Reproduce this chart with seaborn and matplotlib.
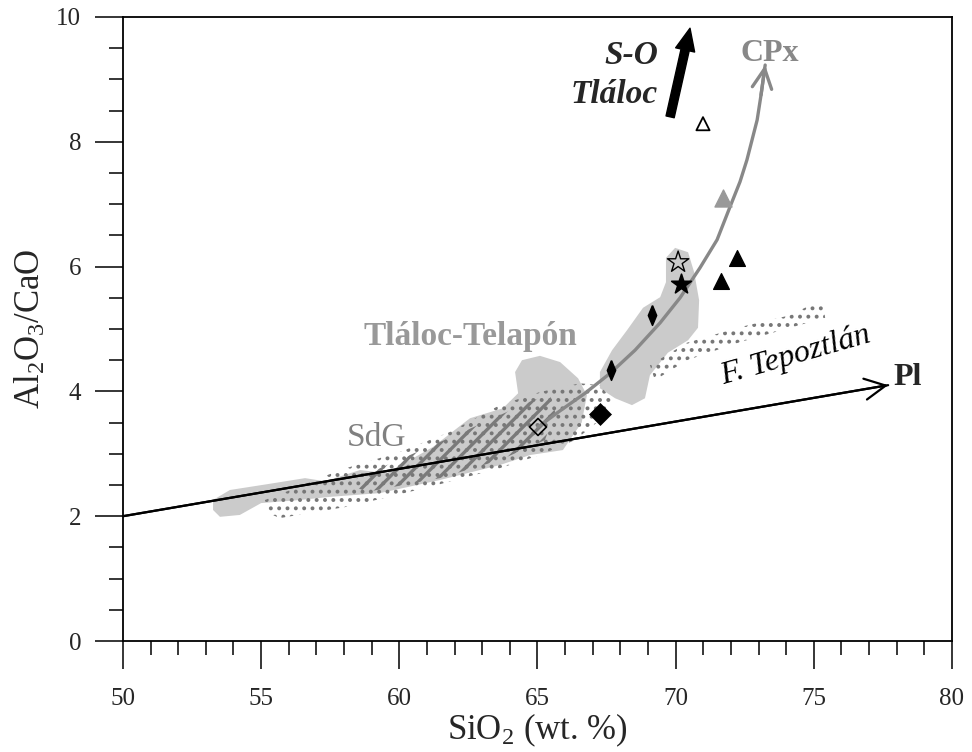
import numpy as np
import pandas as pd
import seaborn as sns
import matplotlib.pyplot as plt
from matplotlib.ticker import MultipleLocator

# samples (SiO2 wt.%, Al2O3/CaO)
sample_group = ["open_diamond", "diamond", "thin_diamond", "thin_diamond", "star",
                "open_star", "triangle", "triangle", "gray_triangle", "open_triangle"]
sample_sio2 = [65.02, 67.26, 67.66, 69.15, 70.20, 70.09, 71.64, 72.22, 71.70, 70.99]
sample_ratio = [3.43, 3.64, 4.34, 5.22, 5.72, 6.07, 5.77, 6.14, 7.10, 8.29]

# Tláloc-Telapón field (lower part and upper blob)
tt_low_sio2 = [53.26, 53.87, 55.32, 56.59, 57.31, 58.58, 59.55, 61.22, 62.09, 62.56, 63.75,
               64.30, 64.19, 64.44, 65.09, 65.82, 66.47, 66.79, 66.60, 65.92, 64.73, 63.64,
               61.47, 59.30, 57.49, 56.41, 55.00, 54.23, 53.51, 53.26]
tt_low_ratio = [2.26, 2.42, 2.52, 2.61, 2.56, 2.74, 2.69, 3.11, 3.41, 3.57, 3.73,
                3.97, 4.31, 4.50, 4.57, 4.47, 4.21, 3.94, 3.50, 3.06, 2.98, 2.82,
                2.58, 2.37, 2.31, 2.26, 2.21, 2.02, 1.99, 2.10]
tt_up_sio2 = [67.26, 67.70, 68.24, 68.82, 69.44, 69.65, 69.65, 69.98, 70.45, 70.67, 70.85,
              70.81, 70.45, 69.72, 69.07, 68.89, 68.42, 67.81, 67.26]
tt_up_ratio = [4.31, 4.66, 4.98, 5.34, 5.51, 5.75, 6.14, 6.30, 6.23, 5.91, 5.46,
               5.02, 4.82, 4.62, 4.26, 3.89, 3.78, 3.89, 4.05]

# dotted fields
dot_sio2 = [55.14, 56.41, 57.85, 60.03, 61.83, 63.64, 65.09, 66.54, 67.26, 67.70, 67.26,
            66.36, 65.09, 63.64, 61.11, 58.22, 55.68, 55.14]
dot_ratio = [2.26, 2.48, 2.74, 3.03, 3.35, 3.78, 3.99, 4.13, 4.10, 3.86, 3.54,
             3.22, 2.98, 2.77, 2.47, 2.16, 1.97, 2.07]
tepo_sio2 = [69.07, 70.41, 72.33, 74.14, 74.68, 75.33, 75.41, 74.14, 72.33, 70.41, 69.25]
tepo_ratio = [4.42, 4.78, 5.03, 5.22, 5.34, 5.42, 5.18, 5.02, 4.79, 4.50, 4.18]

# hatched field (SdG)
sdg_sio2 = [58.47, 62.20, 64.84, 65.45, 65.64, 65.27, 63.64, 61.47, 58.83, 58.40]
sdg_ratio = [2.61, 3.33, 3.86, 3.94, 3.67, 3.22, 2.90, 2.61, 2.39, 2.47]

# trends
pl_sio2 = [50.0, 77.69]
pl_ratio = [2.0, 4.10]
cpx_sio2 = [65.02, 65.82, 66.72, 67.63, 68.53, 69.44, 70.16, 70.88, 71.50, 71.97,
            72.33, 72.58, 72.95, 73.09, 73.24]
cpx_ratio = [3.43, 3.69, 3.97, 4.29, 4.66, 5.10, 5.50, 5.98, 6.43, 6.96,
             7.36, 7.71, 8.35, 8.75, 9.23]
so_sio2 = [69.80, 70.52]
so_ratio = [8.40, 9.82]

sns.set_style("ticks")
plt.rcParams["font.family"] = ["Liberation Serif", "DejaVu Serif"]
plt.rcParams["mathtext.fontset"] = "custom"
plt.rcParams["mathtext.rm"] = "Liberation Serif"
plt.rcParams["hatch.linewidth"] = 1.6

fig = plt.figure(figsize=(9.72, 7.52), dpi=100)
ax = fig.add_axes([0.1265, 0.1476, 0.8529, 0.8298])

# fields
ax.fill(tt_low_sio2, tt_low_ratio, color="#cbcbcb", lw=0, zorder=1)
ax.fill(tt_up_sio2, tt_up_ratio, color="#cbcbcb", lw=0, zorder=1)
for xs, ys in [(dot_sio2, dot_ratio), (tepo_sio2, tepo_ratio)]:
    ax.fill(xs, ys, facecolor="none", edgecolor="#777777", hatch="..", lw=0, zorder=2)
hp = ax.fill(sdg_sio2, sdg_ratio, facecolor="none", edgecolor="#7a7a7a", hatch="//", lw=0, zorder=3)[0]
if hasattr(hp, "set_hatch_linewidth"):
    hp.set_hatch_linewidth(2.4)

# Pl trend
sns.lineplot(x=pl_sio2, y=pl_ratio, color="black", lw=1.6, sort=False, ax=ax, zorder=4)
ax.annotate("", xy=(pl_sio2[-1], pl_ratio[-1]), xytext=(pl_sio2[-2], pl_ratio[-2]),
            arrowprops=dict(arrowstyle="->,head_length=0.75,head_width=0.38", lw=1.6,
                            color="black", shrinkA=0, shrinkB=0, mutation_scale=20), zorder=4)

# CPx trend
sns.lineplot(x=cpx_sio2, y=cpx_ratio, color="#888888", lw=2.4, sort=False, ax=ax, zorder=4)
ax.annotate("", xy=(cpx_sio2[-1], cpx_ratio[-1]), xytext=(cpx_sio2[-2], cpx_ratio[-2]),
            arrowprops=dict(arrowstyle="->,head_length=0.7,head_width=0.35", lw=2.4,
                            color="#888888", shrinkA=0, shrinkB=0, mutation_scale=20), zorder=4)

# S-O Tláloc arrow
ax.annotate("", xy=(so_sio2[1], so_ratio[1]), xytext=(so_sio2[0], so_ratio[0]),
            arrowprops=dict(arrowstyle="simple,head_length=0.8,head_width=0.7,tail_width=0.3",
                            color="black", shrinkA=0, shrinkB=0, mutation_scale=20), zorder=4)

# samples
thin_d = [(0, 1), (0.42, 0), (0, -1), (-0.42, 0), (0, 1)]
df = pd.DataFrame({"SiO2": sample_sio2, "ratio": sample_ratio, "group": sample_group})
styles = {
    "open_diamond": dict(marker="D", s=75, facecolor="none", edgecolor="black", linewidth=1.2),
    "diamond": dict(marker="D", s=125, color="black", edgecolor="black", linewidth=0.5),
    "thin_diamond": dict(marker=thin_d, s=200, color="black", edgecolor="black"),
    "star": dict(marker="*", s=220, color="black", edgecolor="black"),
    "open_star": dict(marker="*", s=260, facecolor="none", edgecolor="black", linewidth=1.0),
    "triangle": dict(marker="^", s=130, color="black", edgecolor="black"),
    "gray_triangle": dict(marker="^", s=150, color="#999999", edgecolor="#999999"),
    "open_triangle": dict(marker="^", s=90, facecolor="none", edgecolor="black", linewidth=1.3),
}
for g, st in styles.items():
    sub = df[df["group"] == g]
    sns.scatterplot(data=sub, x="SiO2", y="ratio", ax=ax, zorder=5, legend=False, **st)

# labels
ax.text(62.56, 4.74, "Tláloc-Telapón", fontsize=24, fontweight="bold", color="#999999",
        ha="center", va="baseline")
ax.text(59.19, 3.25, "SdG", fontsize=24, color="#808080", ha="center", va="center")
ax.text(74.32, 4.57, "F. Tepoztlán", fontsize=23, style="italic", color="black",
        ha="center", va="center", rotation=16)
ax.text(77.87, 4.23, "Pl", fontsize=23, fontweight="bold", ha="left", va="center")
ax.text(73.42, 9.42, "CPx", fontsize=23, fontweight="bold", color="#888888", ha="center", va="center")
ax.text(69.36, 9.38, "S-O", fontsize=24, fontweight="bold", style="italic", ha="right", va="center")
ax.text(69.36, 8.75, "Tláloc", fontsize=24, fontweight="bold", style="italic", ha="right", va="center")

ax.set_xlim(50, 80)
ax.set_ylim(0, 10)
ax.xaxis.set_major_locator(MultipleLocator(5))
ax.xaxis.set_minor_locator(MultipleLocator(1))
ax.yaxis.set_major_locator(MultipleLocator(2))
ax.yaxis.set_minor_locator(MultipleLocator(0.5))
ax.tick_params(which="major", direction="out", length=20, width=1.1, labelsize=18, color="black")
ax.tick_params(which="minor", direction="out", length=10, width=1.1, color="black")
ax.tick_params(axis="x", which="major", pad=14)
ax.tick_params(axis="y", which="major", pad=10)
for sp in ax.spines.values():
    sp.set_linewidth(1.3)
    sp.set_color("black")

ax.set_xlabel(r"$\mathregular{SiO_2}$ (wt. %)", fontsize=25, labelpad=1)
ax.set_ylabel(r"$\mathregular{Al_2O_3/CaO}$", fontsize=25, labelpad=6)

fig.savefig("out.png", dpi=100)
